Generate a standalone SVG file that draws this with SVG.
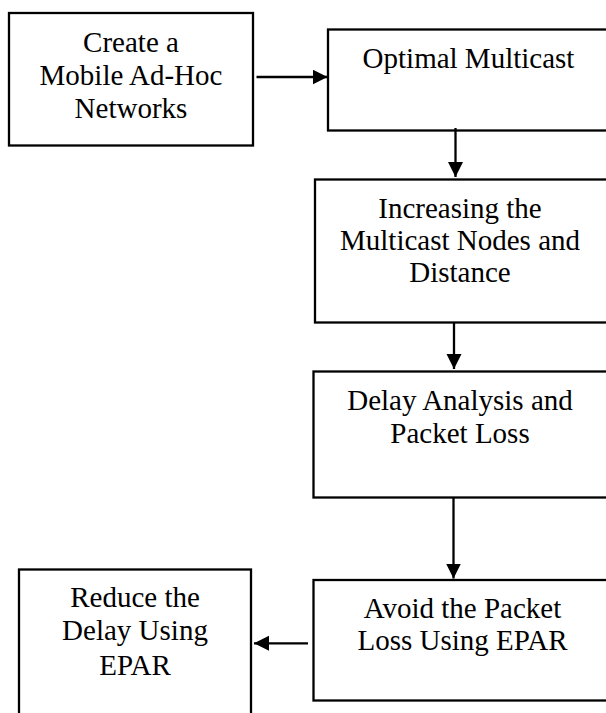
<svg xmlns="http://www.w3.org/2000/svg" width="606" height="713" viewBox="0 0 606 713">
<style>
.box{fill:#fff;stroke:#000;stroke-width:2.3}
.t{font-family:"Liberation Serif","Times New Roman",serif;font-size:29px;fill:#000;text-anchor:middle}
.c{stroke:#000;stroke-width:2.3;fill:none}
</style>
<defs>
<marker id="ah" markerUnits="userSpaceOnUse" markerWidth="16" markerHeight="16" refX="15" refY="7.5" orient="auto">
<path d="M0,0 L15,7.5 L0,15 Z" fill="#000"/>
</marker>
</defs>
<rect width="606" height="713" fill="#fff"/>
<g id="n1">
<rect class="box" x="9" y="13" width="244" height="132.5"/>
<text class="t" x="131" y="51.5">Create a</text>
<text class="t" x="131" y="84.5">Mobile Ad-Hoc</text>
<text class="t" x="131" y="117.5">Networks</text>
</g>
<g id="n2">
<rect class="box" x="328" y="29.5" width="300" height="101"/>
<text class="t" x="468.5" y="67.5">Optimal Multicast</text>
</g>
<g id="n3">
<rect class="box" x="315" y="179.5" width="300" height="143"/>
<text class="t" x="460" y="217.5">Increasing the</text>
<text class="t" x="460" y="250">Multicast Nodes and</text>
<text class="t" x="460" y="282">Distance</text>
</g>
<g id="n4">
<rect class="box" x="313.5" y="371.5" width="300" height="126"/>
<text class="t" x="460" y="410">Delay Analysis and</text>
<text class="t" x="460" y="442.5">Packet Loss</text>
</g>
<g id="n5">
<rect class="box" x="313.5" y="580" width="300" height="120.5"/>
<text class="t" x="462.5" y="618">Avoid the Packet</text>
<text class="t" x="462.5" y="650">Loss Using EPAR</text>
</g>
<g id="n6">
<rect class="box" x="19" y="569.5" width="232" height="200"/>
<text class="t" x="135" y="606.5">Reduce the</text>
<text class="t" x="135" y="640">Delay Using</text>
<text class="t" x="135" y="675">EPAR</text>
</g>
<g id="connectors">
<line class="c" x1="256.5" y1="77" x2="327.5" y2="77" marker-end="url(#ah)"/>
<line class="c" x1="455.5" y1="128" x2="455.5" y2="177" marker-end="url(#ah)"/>
<line class="c" x1="454" y1="322.5" x2="454" y2="369" marker-end="url(#ah)"/>
<line class="c" x1="453.5" y1="497.5" x2="453.5" y2="578.5" marker-end="url(#ah)"/>
<line class="c" x1="308" y1="643.3" x2="254" y2="643.3" marker-end="url(#ah)"/>
</g>
</svg>
